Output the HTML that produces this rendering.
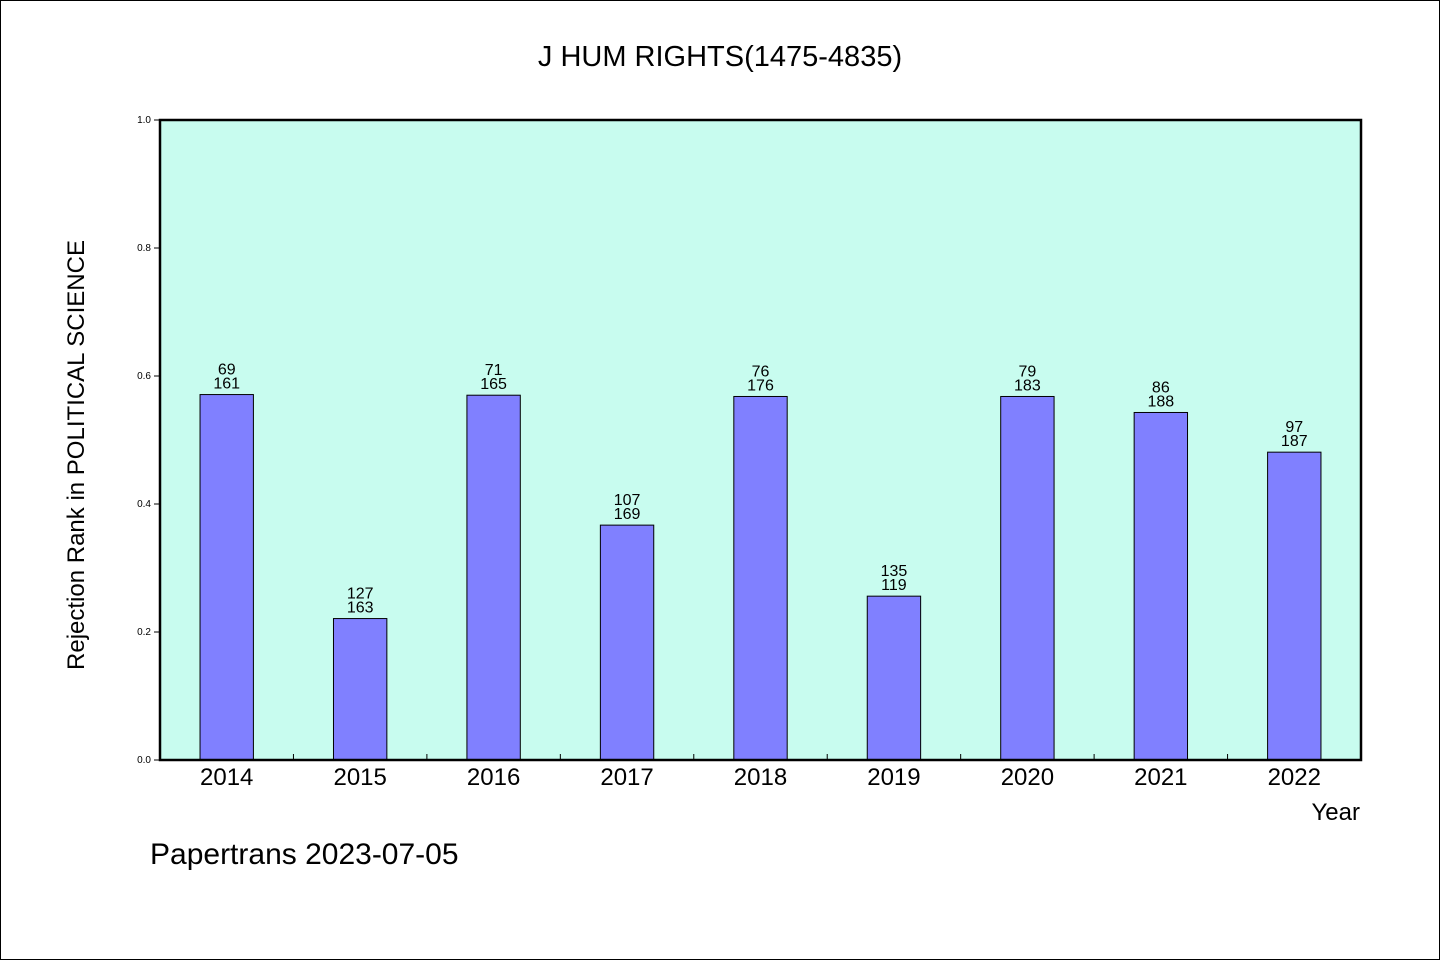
<!DOCTYPE html>
<html><head><meta charset="utf-8"><style>
body{margin:0;background:#fff}
svg text{font-family:"WenQuanYi Zen Hei","Liberation Sans",sans-serif;fill:#000}
</style></head><body>
<svg id="chart" width="1440" height="960" xmlns="http://www.w3.org/2000/svg">
<rect x="0.5" y="0.5" width="1439" height="959" fill="#fff" stroke="#000"/>
<text x="720" y="66" font-size="29" text-anchor="middle">J HUM RIGHTS(1475-4835)</text>
<rect x="160" y="120" width="1201" height="640" fill="#c8fcef"/>
<g id="marks"></g>
<rect x="160" y="120" width="1201" height="640" fill="none" stroke="#000" stroke-width="2.5"/>
<text transform="translate(84,455) rotate(-90)" font-size="24" text-anchor="middle">Rejection Rank in POLITICAL SCIENCE</text>
<text x="1360" y="820" font-size="24" text-anchor="end">Year</text>
<text x="150" y="864" font-size="30">Papertrans 2023-07-05</text>
</svg>
<script>
const categories=["2014","2015","2016","2017","2018","2019","2020","2021","2022"];
const values=[0.571,0.221,0.570,0.367,0.568,0.256,0.568,0.543,0.481];
const rankLabels=["69","127","71","107","76","135","79","86","97"];
const totalLabels=["161","163","165","169","176","119","183","188","187"];
const yTicks=[0,0.2,0.4,0.6,0.8,1.0];
const yTickLabels=["0.0","0.2","0.4","0.6","0.8","1.0"];
const X0=160,W=1201,Y0=760,H=640;
const band=W/categories.length;
const y=v=>Y0-v*H;
const xc=i=>X0+band*(i+0.5);
const g=document.getElementById('marks');
const NS='http://www.w3.org/2000/svg';
function mk(t,a){const e=document.createElementNS(NS,t);for(const k in a)e.setAttribute(k,a[k]);g.appendChild(e);return e;}
yTicks.forEach((v,i)=>{
 const l=mk('line',{x1:154,x2:160,y1:y(v),y2:y(v),stroke:'#000'});
 
 
 const t=mk('text',{x:151,y:y(v)+3,'font-size':10,'text-anchor':'end'});t.textContent=yTickLabels[i];
 
 
});
for(let i=1;i<categories.length;i++){
 const l=mk('line',{x1:X0+band*i,x2:X0+band*i,y1:754,y2:760,stroke:'#000'});
 
 
}
categories.forEach((c,i)=>{
 const bw=band*0.4;
 const r=mk('rect',{x:xc(i)-bw/2,y:y(values[i]),width:bw,height:values[i]*H,fill:'#8080ff',stroke:'#000','stroke-width':1});
 
 
 const t1=mk('text',{x:xc(i),y:y(values[i])-20,'font-size':16,'text-anchor':'middle'});t1.textContent=rankLabels[i];
 
 
 const t2=mk('text',{x:xc(i),y:y(values[i])-6,'font-size':16,'text-anchor':'middle'});t2.textContent=totalLabels[i];
 
 
 const t3=mk('text',{x:xc(i),y:785,'font-size':24,'text-anchor':'middle'});t3.textContent=c;
 
 
});
</script>
</body></html>
